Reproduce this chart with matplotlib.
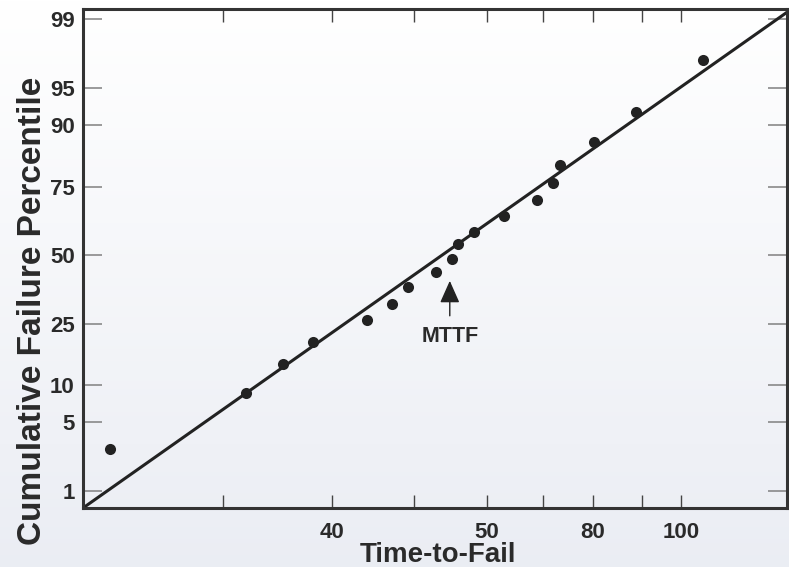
import numpy as np
import matplotlib
matplotlib.use('Agg')
import matplotlib.pyplot as plt
from statistics import NormalDist

plt.rcParams['font.family'] = ['Liberation Sans', 'DejaVu Sans']
plt.rcParams['font.weight'] = 'bold'

###########################################################
# data (x is position along the time axis, 0-100 % of width)

fail_pos = [3.9, 23.2, 28.4, 32.6, 40.3, 43.9, 46.1, 50.2, 52.4,
            53.3, 55.5, 59.8, 64.5, 66.8, 67.7, 72.6, 78.6, 88.0]
fail_pct = [2.8, 8.7, 14.2, 19.6, 26.0, 31.6, 37.7, 43.4, 48.6,
            54.2, 59.2, 65.0, 70.7, 76.2, 81.3, 86.7, 92.1, 97.3]

fit_pos = [0.0, 100.0]
fit_pct = [0.633, 99.17]

x_tick_pos = [19.9, 35.4, 47.0, 57.4, 65.3, 72.4, 79.4, 84.9]
x_tick_labels = ['', '40', '', '50', '', '80', '', '100']

y_ticks = [1, 5, 10, 25, 50, 75, 90, 95, 99]

###########################################################
# normal probability scale

_nd = NormalDist()
_ppf = np.vectorize(_nd.inv_cdf, otypes=[float])
_cdf = np.vectorize(_nd.cdf, otypes=[float])

def prob_fwd(p):
    p = np.clip(np.asarray(p, dtype=float) / 100.0, 1e-9, 1 - 1e-9)
    return _ppf(p)

def prob_inv(z):
    z = np.asarray(z, dtype=float)
    return _cdf(z) * 100.0

###########################################################
# figure

fig = plt.figure(figsize=(7.89, 5.67), dpi=100)

# soft background gradient
bg = fig.add_axes([0, 0, 1, 1], zorder=-10)
top = np.array([1.0, 1.0, 1.0])
bot = np.array([0.92, 0.93, 0.955])
t = np.linspace(0, 1, 256)[:, None]
grad = (top * (1 - t) + bot * t)[:, None, :]
bg.imshow(grad, aspect='auto', extent=[0, 1, 0, 1])
bg.axis('off')

ax = fig.add_axes([83 / 789, 59 / 567, 704 / 789, 499 / 567])
ax.set_facecolor('none')

ax.set_yscale('function', functions=(prob_fwd, prob_inv))
ax.set_ylim(0.633, 99.24)
ax.set_xlim(0, 100)

ax.plot(fit_pos, fit_pct, color='#222222', lw=2.2, solid_capstyle='butt')
ax.plot(fail_pos, fail_pct, 'o', color='#222222', ms=8, mec='none')

# MTTF marker
ax.annotate('', xy=(52.1, 40.0), xytext=(52.1, 27.5),
            arrowprops=dict(arrowstyle='-|>,head_length=1.37,head_width=0.61',
                            color='#222222', lw=1.0, mutation_scale=10,
                            shrinkA=0, shrinkB=0))
ax.text(52.2, 21.0, 'MTTF', ha='center', va='center', fontsize=15.5,
        fontweight='bold', color='#2a2a2a')

# ticks
ax.set_xticks(x_tick_pos)
ax.set_xticklabels(x_tick_labels)
ax.set_yticks(y_ticks)
ax.set_yticklabels([str(v) for v in y_ticks])
ax.minorticks_off()
ax.tick_params(axis='x', direction='in', length=9.5, width=1.0,
               color='#444444', top=True, pad=10, labelsize=16,
               labelcolor='#2a2a2a')
ax.tick_params(axis='y', direction='in', length=13.5, width=1.1,
               color='#808080', right=True, pad=6, labelsize=16,
               labelcolor='#2a2a2a')

for s in ax.spines.values():
    s.set_linewidth(2.2)
    s.set_color('#333333')

fig.text(33 / 789, 1 - 311 / 567, 'Cumulative Failure Percentile',
         rotation=90, ha='center', va='center', fontsize=24,
         fontweight='bold', color='#2a2a2a')
fig.text(438 / 789, 5 / 567, 'Time-to-Fail', ha='center', va='baseline',
         fontsize=20, fontweight='bold', color='#2a2a2a')

fig.savefig('out.png', dpi=100)
